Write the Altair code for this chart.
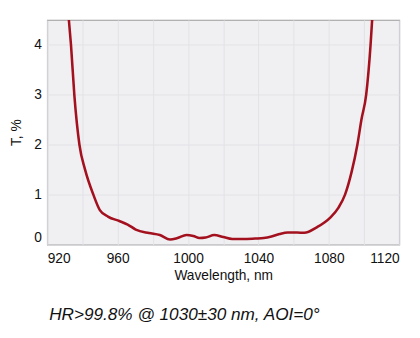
import altair as alt
import pandas as pd

wavelength = [932.3, 933.5, 935.4, 938.3, 941.5, 946.2, 949.9, 954.5, 961.0, 965.7,
              970.3, 977.8, 984.0, 989.8, 994.0, 999.1, 1003.0, 1006.5, 1010.0, 1014.9,
              1020.0, 1025.1, 1031.0, 1038.1, 1043.0, 1047.4, 1052.0, 1056.7, 1062.0, 1066.0,
              1073.4, 1080.8, 1085.5, 1089.2, 1092.9, 1096.2, 1098.5, 1101.2, 1103.7, 1104.6]
transmission = [4.5, 4.0, 3.0, 2.0, 1.5, 1.0, 0.69, 0.56, 0.47, 0.40,
                0.30, 0.23, 0.19, 0.10, 0.13, 0.19, 0.17, 0.13, 0.14, 0.19,
                0.15, 0.11, 0.11, 0.12, 0.13, 0.16, 0.21, 0.24, 0.24, 0.235,
                0.35, 0.54, 0.74, 1.0, 1.45, 2.0, 2.5, 3.0, 4.0, 4.5]

x_ticks = [920, 960, 1000, 1040, 1080, 1120]
x_grid = list(range(920, 1121, 20))
y_ticks = [0, 1, 2, 3, 4]

df = pd.DataFrame({"wl": wavelength, "T": transmission})

FONT = "Liberation Sans"

chart = alt.Chart(df).mark_line(
    color="#a3111f", strokeWidth=2.6, interpolate="monotone", clip=True
).encode(
    x=alt.X("wl:Q", scale=alt.Scale(domain=[920, 1120], nice=False, zero=False),
            axis=alt.Axis(title="Wavelength, nm", values=x_grid, format="d",
                          labelExpr="datum.value % 40 == 0 ? datum.label : ''",
                          ticks=False, labelPadding=7, labelFontSize=14, titleFontSize=14,
                          titleFontWeight="normal", titlePadding=4, labelFlush=True,
                          domain=False, gridColor="#e2e2e7", gridWidth=1,
                          labelColor="#111", titleColor="#111")),
    y=alt.Y("T:Q", scale=alt.Scale(domain=[0, 4.5], nice=False),
            axis=alt.Axis(title="T, %", values=y_ticks, format="d", ticks=False, labelPadding=6,
                          labelFontSize=14, titleFontSize=14, titleFontWeight="normal",
                          titlePadding=10, labelFlush=True, domain=False,
                          gridColor="#e2e2e7", gridWidth=1,
                          labelColor="#111", titleColor="#111")),
).properties(
    width=359, height=229,
    autosize=alt.AutoSizeParams(type="none"),
    padding={"left": 40, "top": 9, "right": 13, "bottom": 84},
    title=alt.TitleParams(
        "HR>99.8% @ 1030±30 nm, AOI=0°", orient="bottom", anchor="start", frame="group",
        fontStyle="italic", fontWeight="normal", fontSize=17.5, offset=24, dx=2, color="#111",
        font=FONT,
    ),
).configure(
    font=FONT,
).configure_view(
    fill="#f0f0f3", stroke="#9a9a9a", strokeWidth=1.2
)

chart.save("out.html", embed_options={"renderer": "svg", "actions": False})
